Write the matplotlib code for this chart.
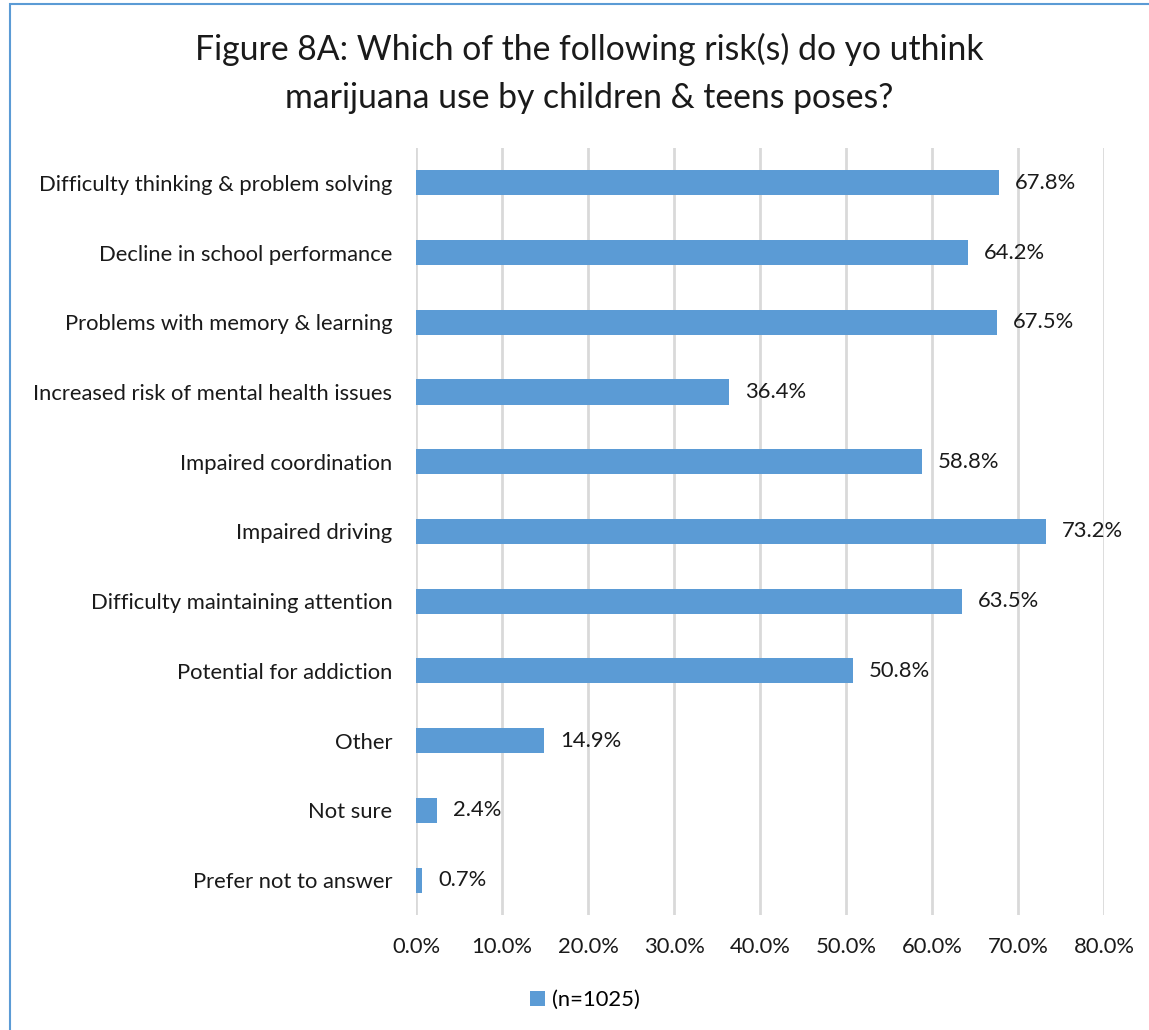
import matplotlib.pyplot as plt
from matplotlib.patches import Rectangle

# Survey responses (share of respondents choosing each risk)
categories = [
    "Difficulty thinking & problem solving",
    "Decline in school performance",
    "Problems with memory & learning",
    "Increased risk of mental health issues",
    "Impaired coordination",
    "Impaired driving",
    "Difficulty maintaining attention",
    "Potential for addiction",
    "Other",
    "Not sure",
    "Prefer not to answer",
]
values = [67.8, 64.2, 67.5, 36.4, 58.8, 73.2, 63.5, 50.8, 14.9, 2.4, 0.7]
xticks = [0, 10, 20, 30, 40, 50, 60, 70, 80]
series_name = "(n=1025)"
title = "Figure 8A: Which of the following risk(s) do yo uthink\nmarijuana use by children & teens poses?"

BLUE = "#5B9BD5"
GRID = "#D9D9D9"
FS = 15.8

plt.rcParams["font.family"] = ["Lato", "DejaVu Sans"]

fig = plt.figure(figsize=(11.49, 10.30), dpi=100)
ax = fig.add_axes([0.3621, 0.1117, 0.5988, 0.7447])

y = list(range(len(categories)))
ax.barh(y, values, height=0.36, color=BLUE, label=series_name, zorder=3)
ax.set_ylim(len(categories) - 0.5, -0.5)
ax.set_xlim(0, 80)

for yi, v in zip(y, values):
    ax.annotate(f"{v:.1f}%", (v, yi), xytext=(11.5, 0), textcoords="offset points",
                va="center", ha="left", fontsize=FS, color="#1a1a1a")

ax.set_yticks(y)
ax.set_yticklabels(categories, fontsize=FS, color="#1a1a1a")
ax.set_xticks(xticks)
ax.set_xticklabels([f"{t:.1f}%" for t in xticks], fontsize=FS, color="#1a1a1a")
ax.tick_params(axis="y", length=0, pad=17)
ax.tick_params(axis="x", length=0, pad=16)
ax.grid(axis="x", color=GRID, linewidth=2, zorder=0)
for s in ax.spines.values():
    s.set_visible(False)

fig.text(0.513, 0.9286, title, ha="center", va="center", fontsize=24.3,
         color="#1a1a1a", linespacing=1.6)

fig.legend(loc="center", bbox_to_anchor=(0.509, 0.029), frameon=False,
           fontsize=FS, handlelength=0.7, handleheight=0.7, handletextpad=0.3)

# chart-area border
fig.add_artist(Rectangle((10 / 1149, -0.1), 1.2, 1.1 - 4 / 1030,
                         transform=fig.transFigure, fill=False,
                         edgecolor=BLUE, linewidth=1.5))

fig.savefig("out.png", dpi=100)
